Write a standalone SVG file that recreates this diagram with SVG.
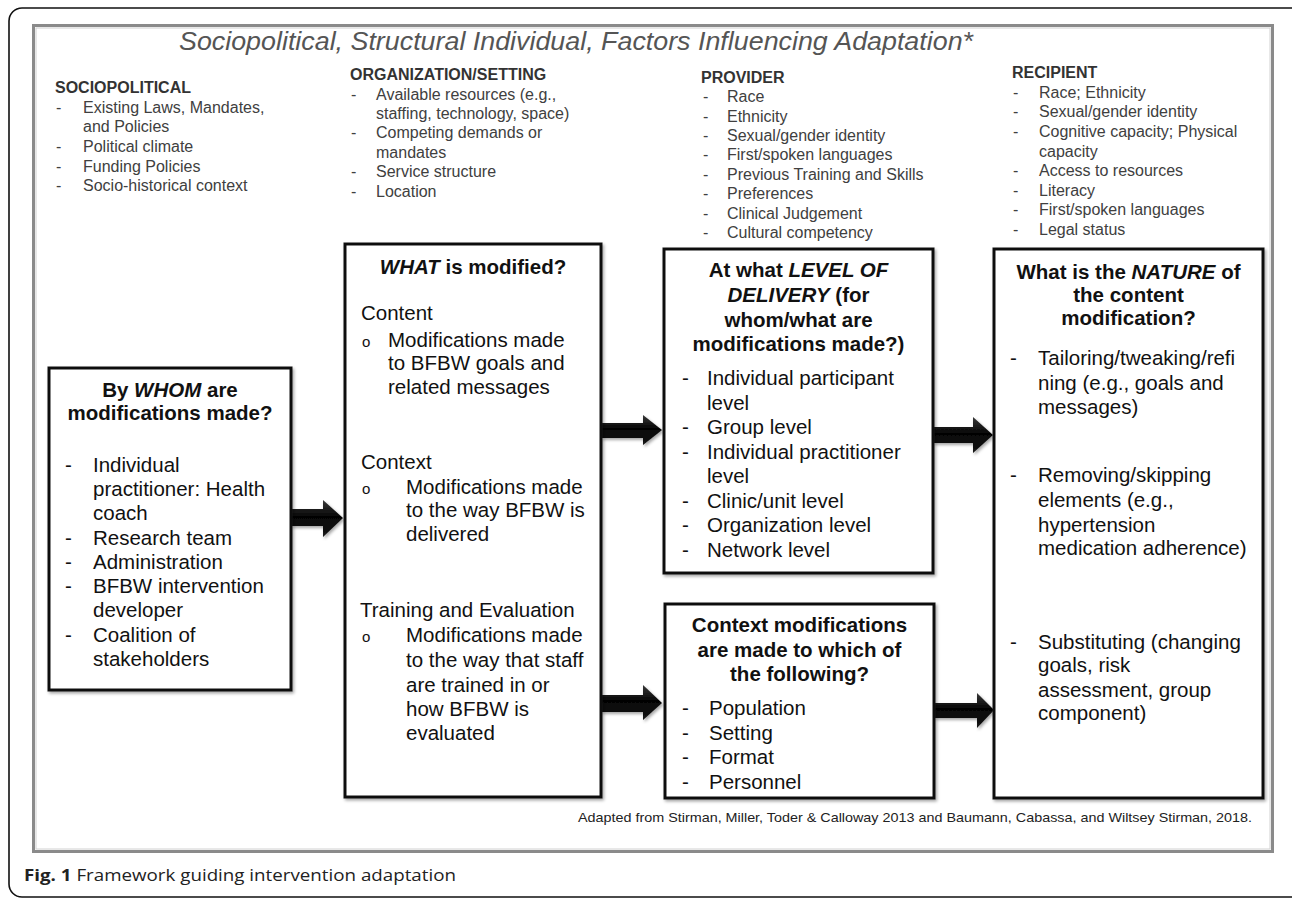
<svg xmlns="http://www.w3.org/2000/svg" width="1292" height="900" viewBox="0 0 1292 900">
<style>
.top{font-family:"Liberation Sans",Arial,sans-serif;font-size:16px;fill:#404040}
.toph{font-family:"Liberation Sans",Arial,sans-serif;font-size:16px;font-weight:bold;fill:#333}
.bx{font-family:"Liberation Sans",Arial,sans-serif;font-size:20.5px;fill:#111}
.bt{font-family:"Liberation Sans",Arial,sans-serif;font-size:20.5px;font-weight:bold;fill:#111;text-anchor:middle}
.it{font-style:italic}
.bul{font-family:"Liberation Sans",Arial,sans-serif;font-size:15px;fill:#111}
.box{fill:#fff;stroke:#111;stroke-width:3;filter:url(#sh)}
.arr{fill:url(#ag);filter:url(#sh)}
</style>
<defs>
<filter id="sh" x="-10%" y="-10%" width="130%" height="130%">
<feDropShadow dx="1.5" dy="2" stdDeviation="1.5" flood-color="#000" flood-opacity="0.35"/>
</filter>
<linearGradient id="ag" x1="0" y1="0" x2="0" y2="1">
<stop offset="0" stop-color="#3a3a3a"/>
<stop offset="0.45" stop-color="#050505"/>
<stop offset="1" stop-color="#151515"/>
</linearGradient>
</defs>
<rect width="1292" height="900" fill="#fff"/>
<rect x="9" y="8" width="1295" height="889" rx="13" fill="none" stroke="#111" stroke-width="1.6"/>
<rect x="33.5" y="25.5" width="1239" height="826" fill="none" stroke="#8a8a8a" stroke-width="3"/>
<rect x="36" y="28" width="1234" height="821" fill="none" stroke="#d0d0d0" stroke-width="1"/>

<text x="179" y="50" font-family="Liberation Sans,Arial,sans-serif" font-size="25" font-style="italic" fill="#555" textLength="794" lengthAdjust="spacingAndGlyphs">Sociopolitical, Structural Individual, Factors Influencing Adaptation*</text>

<g id="col-sociopolitical">
<text class="toph" x="55" y="93">SOCIOPOLITICAL</text>
<text class="top" x="56" y="113">-</text><text class="top" x="83" y="113">Existing Laws, Mandates,</text>
<text class="top" x="83" y="132">and Policies</text>
<text class="top" x="56" y="152">-</text><text class="top" x="83" y="152">Political climate</text>
<text class="top" x="56" y="172">-</text><text class="top" x="83" y="172">Funding Policies</text>
<text class="top" x="56" y="191">-</text><text class="top" x="83" y="191">Socio-historical context</text>
</g>
<g id="col-organization">
<text class="toph" x="350" y="80">ORGANIZATION/SETTING</text>
<text class="top" x="351" y="100">-</text><text class="top" x="376" y="100">Available resources (e.g.,</text>
<text class="top" x="376" y="119">staffing, technology, space)</text>
<text class="top" x="351" y="138">-</text><text class="top" x="376" y="138">Competing demands or</text>
<text class="top" x="376" y="158">mandates</text>
<text class="top" x="351" y="177">-</text><text class="top" x="376" y="177">Service structure</text>
<text class="top" x="351" y="197">-</text><text class="top" x="376" y="197">Location</text>
</g>
<g id="col-provider">
<text class="toph" x="701" y="83">PROVIDER</text>
<text class="top" x="703" y="102">-</text><text class="top" x="727" y="102">Race</text>
<text class="top" x="703" y="122">-</text><text class="top" x="727" y="122">Ethnicity</text>
<text class="top" x="703" y="141">-</text><text class="top" x="727" y="141">Sexual/gender identity</text>
<text class="top" x="703" y="160">-</text><text class="top" x="727" y="160">First/spoken languages</text>
<text class="top" x="703" y="180">-</text><text class="top" x="727" y="180">Previous Training and Skills</text>
<text class="top" x="703" y="199">-</text><text class="top" x="727" y="199">Preferences</text>
<text class="top" x="703" y="219">-</text><text class="top" x="727" y="219">Clinical Judgement</text>
<text class="top" x="703" y="238">-</text><text class="top" x="727" y="238">Cultural competency</text>
</g>
<g id="col-recipient">
<text class="toph" x="1012" y="78">RECIPIENT</text>
<text class="top" x="1013" y="98">-</text><text class="top" x="1039" y="98">Race; Ethnicity</text>
<text class="top" x="1013" y="117">-</text><text class="top" x="1039" y="117">Sexual/gender identity</text>
<text class="top" x="1013" y="137">-</text><text class="top" x="1039" y="137">Cognitive capacity; Physical</text>
<text class="top" x="1039" y="157">capacity</text>
<text class="top" x="1013" y="176">-</text><text class="top" x="1039" y="176">Access to resources</text>
<text class="top" x="1013" y="196">-</text><text class="top" x="1039" y="196">Literacy</text>
<text class="top" x="1013" y="215">-</text><text class="top" x="1039" y="215">First/spoken languages</text>
<text class="top" x="1013" y="235">-</text><text class="top" x="1039" y="235">Legal status</text>
</g>

<g id="connectors">
<polygon class="arr" points="291,509 323,509 323,500 343,518 323,537 323,526 291,526"/>
<polygon class="arr" points="601,423 643,423 643,415 662,430 643,445 643,438 601,438"/>
<polygon class="arr" points="601,695 643,695 643,685 662,703 643,720 643,712 601,712"/>
<polygon class="arr" points="933,427 973,427 973,417 993,435 973,453 973,443 933,443"/>
<polygon class="arr" points="934,703 977,703 977,693 994,710 977,728 977,718 934,718"/>
</g>

<g id="node-whom">
<rect class="box" x="49" y="368" width="242" height="322"/>
<text class="bt" x="170" y="397">By <tspan class="it">WHOM</tspan> are</text>
<text class="bt" x="170" y="420">modifications made?</text>
<text class="bx" x="65" y="472">-</text><text class="bx" x="93" y="472">Individual</text>
<text class="bx" x="93" y="496">practitioner: Health</text>
<text class="bx" x="93" y="520">coach</text>
<text class="bx" x="65" y="545">-</text><text class="bx" x="93" y="545">Research team</text>
<text class="bx" x="65" y="569">-</text><text class="bx" x="93" y="569">Administration</text>
<text class="bx" x="65" y="593">-</text><text class="bx" x="93" y="593">BFBW intervention</text>
<text class="bx" x="93" y="617">developer</text>
<text class="bx" x="65" y="642">-</text><text class="bx" x="93" y="642">Coalition of</text>
<text class="bx" x="93" y="666">stakeholders</text>
</g>

<g id="node-what">
<rect class="box" x="345" y="244" width="256" height="553"/>
<text class="bt" x="473" y="274"><tspan class="it">WHAT</tspan> is modified?</text>
<text class="bx" x="361" y="320">Content</text>
<text class="bul" x="362" y="347">o</text><text class="bx" x="388" y="347">Modifications made</text>
<text class="bx" x="388" y="370">to BFBW goals and</text>
<text class="bx" x="388" y="394">related messages</text>
<text class="bx" x="361" y="469">Context</text>
<text class="bul" x="362" y="494">o</text><text class="bx" x="406" y="494">Modifications made</text>
<text class="bx" x="406" y="517">to the way BFBW is</text>
<text class="bx" x="406" y="541">delivered</text>
<text class="bx" x="360" y="617">Training and Evaluation</text>
<text class="bul" x="362" y="642">o</text><text class="bx" x="406" y="642">Modifications made</text>
<text class="bx" x="406" y="667">to the way that staff</text>
<text class="bx" x="406" y="692">are trained in or</text>
<text class="bx" x="406" y="716">how BFBW is</text>
<text class="bx" x="406" y="740">evaluated</text>
</g>

<g id="node-level">
<rect class="box" x="664" y="249" width="269" height="324"/>
<text class="bt" x="798.5" y="277">At what <tspan class="it">LEVEL OF</tspan></text>
<text class="bt" x="798.5" y="302"><tspan class="it">DELIVERY</tspan> (for</text>
<text class="bt" x="798.5" y="327">whom/what are</text>
<text class="bt" x="798.5" y="351">modifications made?)</text>
<text class="bx" x="682" y="385">-</text><text class="bx" x="707" y="385">Individual participant</text>
<text class="bx" x="707" y="410">level</text>
<text class="bx" x="682" y="434">-</text><text class="bx" x="707" y="434">Group level</text>
<text class="bx" x="682" y="459">-</text><text class="bx" x="707" y="459">Individual practitioner</text>
<text class="bx" x="707" y="483">level</text>
<text class="bx" x="682" y="508">-</text><text class="bx" x="707" y="508">Clinic/unit level</text>
<text class="bx" x="682" y="532">-</text><text class="bx" x="707" y="532">Organization level</text>
<text class="bx" x="682" y="557">-</text><text class="bx" x="707" y="557">Network level</text>
</g>

<g id="node-context">
<rect class="box" x="665" y="604" width="269" height="194"/>
<text class="bt" x="799.5" y="632">Context modifications</text>
<text class="bt" x="799.5" y="657">are made to which of</text>
<text class="bt" x="799.5" y="681">the following?</text>
<text class="bx" x="682" y="715">-</text><text class="bx" x="709" y="715">Population</text>
<text class="bx" x="682" y="740">-</text><text class="bx" x="709" y="740">Setting</text>
<text class="bx" x="682" y="764">-</text><text class="bx" x="709" y="764">Format</text>
<text class="bx" x="682" y="789">-</text><text class="bx" x="709" y="789">Personnel</text>
</g>

<g id="node-nature">
<rect class="box" x="994" y="249" width="269" height="549"/>
<text class="bt" x="1128.5" y="279">What is the <tspan class="it">NATURE</tspan> of</text>
<text class="bt" x="1128.5" y="302">the content</text>
<text class="bt" x="1128.5" y="325">modification?</text>
<text class="bx" x="1010" y="365">-</text><text class="bx" x="1038" y="365">Tailoring/tweaking/refi</text>
<text class="bx" x="1038" y="390">ning (e.g., goals and</text>
<text class="bx" x="1038" y="414">messages)</text>
<text class="bx" x="1010" y="482">-</text><text class="bx" x="1038" y="482">Removing/skipping</text>
<text class="bx" x="1038" y="507">elements (e.g.,</text>
<text class="bx" x="1038" y="532">hypertension</text>
<text class="bx" x="1038" y="555">medication adherence)</text>
<text class="bx" x="1010" y="649">-</text><text class="bx" x="1038" y="649">Substituting (changing</text>
<text class="bx" x="1038" y="672">goals, risk</text>
<text class="bx" x="1038" y="697">assessment, group</text>
<text class="bx" x="1038" y="720">component)</text>
</g>

<text x="578" y="822" font-family="Liberation Sans,Arial,sans-serif" font-size="13.5" fill="#222" textLength="674" lengthAdjust="spacingAndGlyphs">Adapted from Stirman, Miller, Toder &amp; Calloway 2013 and Baumann, Cabassa, and Wiltsey Stirman, 2018.</text>

<text x="24" y="881" font-family="Open Sans,Liberation Sans,sans-serif" font-size="16.5" fill="#222" textLength="432" lengthAdjust="spacingAndGlyphs"><tspan font-weight="bold">Fig. 1</tspan> Framework guiding intervention adaptation</text>
</svg>
